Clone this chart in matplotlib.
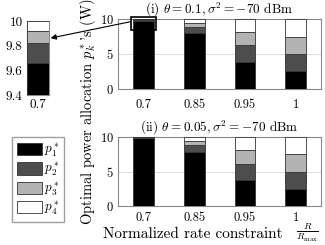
import numpy as np
import matplotlib
matplotlib.use("Agg")
import matplotlib.pyplot as plt
from matplotlib.patches import Rectangle

plt.rcParams['font.family'] = 'serif'
plt.rcParams['font.serif'] = ['cmr10']
plt.rcParams['mathtext.fontset'] = 'cm'
plt.rcParams['axes.formatter.use_mathtext'] = True
plt.rcParams['font.size'] = 9

# data
rates = ['0.7', '0.85', '0.95', '1']
labels = ['$p_1^*$', '$p_2^*$', '$p_3^*$', '$p_4^*$']
colors = ['#000000', '#4d4d4d', '#b3b3b3', '#ffffff']

# (i) theta = 0.1
p_top = np.array([
    [9.66, 7.95, 3.85, 2.50],   # p1
    [0.16, 0.85, 2.40, 2.45],   # p2
    [0.10, 0.60, 1.90, 2.50],   # p3
    [0.08, 0.60, 1.85, 2.55],   # p4
])
# (ii) theta = 0.05
p_bot = np.array([
    [9.78, 7.85, 3.80, 2.50],
    [0.12, 0.98, 2.35, 2.50],
    [0.06, 0.58, 2.00, 2.55],
    [0.04, 0.59, 1.85, 2.45],
])


def stacked(ax, p, x, width):
    """
    Draw stacked bars of the power allocation
    """
    bottom = np.zeros(p.shape[1])
    hs = []
    for k in range(p.shape[0]):
        h = ax.bar(x, p[k], width, bottom=bottom, color=colors[k],
                   edgecolor='#333333', linewidth=0.6, label=labels[k], zorder=3)
        hs.append(h)
        bottom += p[k]
    return hs


def style(ax, xpad):
    ax.set_ylim(0, 10)
    ax.set_yticks([0, 5, 10])
    ax.set_xlim(0.5, 4.5)
    ax.set_xticks(np.arange(1, 5))
    ax.set_xticklabels(rates)
    ax.tick_params(length=0, labelsize=9)
    ax.tick_params(axis='x', pad=xpad)
    ax.tick_params(axis='y', pad=3)
    ax.grid(axis='y', color='#dddddd', linewidth=0.7, zorder=0)
    for s in ax.spines.values():
        s.set_color('#888888')
        s.set_linewidth(0.8)


fig = plt.figure(figsize=(3.25, 2.45), dpi=100)
ax1 = fig.add_axes([0.363, 0.637, 0.625, 0.286])
ax2 = fig.add_axes([0.363, 0.159, 0.625, 0.282])

x = np.arange(1, 5)
hs = stacked(ax1, p_top, x, 0.41)
stacked(ax2, p_bot, x, 0.41)
style(ax1, 7)
style(ax2, 4)
ax1.set_title(r'(i) $\theta=0.1,\sigma^2=-70$ dBm', pad=2, fontsize=9.5)
ax2.set_title(r'(ii) $\theta=0.05,\sigma^2=-70$ dBm', pad=2, fontsize=9.5)

fig.text(0.272, 0.543, "Optimal power allocation $p_k^*$'s (W)",
         rotation=90, ha='center', va='center', fontsize=10.5)
fig.text(0.317, 0.029, 'Normalized rate constraint',
         ha='left', va='baseline', fontsize=11)
fig.text(0.945, 0.05, r'$\frac{R}{R_{\max}}$',
         ha='center', va='center', fontsize=10)

# zoom box on top panel
ax1.add_patch(Rectangle((0.75, 8.4), 0.5, 1.9, fill=False, edgecolor='k',
                        linewidth=1.2, clip_on=False, zorder=5))

# inset
axin = fig.add_axes([0.083, 0.612, 0.068, 0.302])
stacked(axin, p_top[:, :1], [1], 1.0)
axin.set_xlim(0.5, 1.5)
axin.set_ylim(9.4, 10)
axin.set_yticks([9.4, 9.6, 9.8, 10])
axin.set_yticklabels(['9.4', '9.6', '9.8', '10'])
axin.set_xticks([1])
axin.set_xticklabels(['0.7'])
axin.tick_params(length=0, pad=3, labelsize=9.5)
for s in axin.spines.values():
    s.set_color('#888888')
    s.set_linewidth(0.8)

ax1.annotate('', xy=(1.07, 0.77), xycoords=axin.transAxes,
             xytext=(0.75, 9.6), textcoords=ax1.transData,
             arrowprops=dict(arrowstyle='-|>', color='k', lw=0.8,
                             mutation_scale=8, shrinkA=0, shrinkB=0))

fig.legend(handles=hs, loc='upper left', bbox_to_anchor=(0.037, 0.44),
           frameon=True, fancybox=False, edgecolor='#888888',
           handlelength=1.9, handleheight=1.05, handletextpad=0.15,
           labelspacing=0.15, borderpad=0.35, borderaxespad=0, fontsize=9.5)

fig.savefig('out.png', dpi=100)
